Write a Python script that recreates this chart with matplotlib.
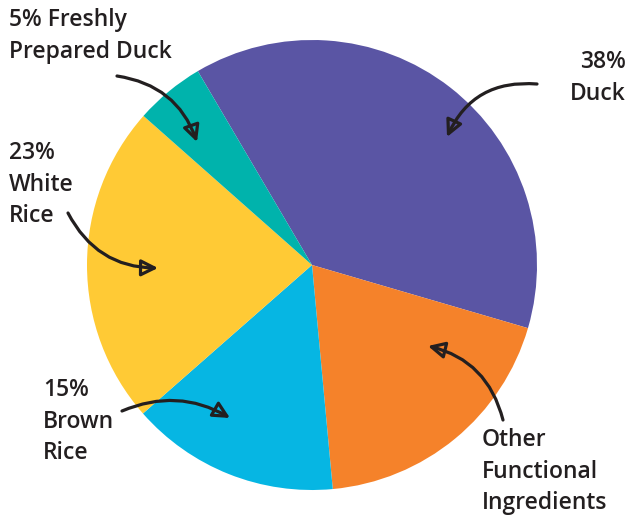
import matplotlib
matplotlib.use("Agg")
import matplotlib.pyplot as plt

labels = ["Duck", "Other Functional Ingredients", "Brown Rice", "White Rice", "Freshly Prepared Duck"]
values = [38, 19, 15, 23, 5]
colors = ["#5A55A4", "#F5822A", "#06B6E3", "#FFCA35", "#00B3AC"]
label_texts = ["38%\nDuck", "Other\nFunctional\nIngredients", "15%\nBrown\nRice", "23%\nWhite\nRice", "5% Freshly\nPrepared Duck"]

W, H = 633, 517
fig = plt.figure(figsize=(W / 100, H / 100), dpi=100)
ax = fig.add_axes([0, 0, 1, 1])

cx, cy, r = 312, H - 265, 225
ax.pie(values, colors=colors, startangle=120.5, counterclock=False,
       center=(cx, cy), radius=r, frame=True,
       wedgeprops=dict(linewidth=0))
ax.set_xlim(0, W)
ax.set_ylim(0, H)
ax.set_aspect("equal")
ax.axis("off")

txt = dict(fontsize=16.5, color="#231F20", family=["Open Sans", "DejaVu Sans"],
           fontweight="semibold", linespacing=1.42, va="top")

# label positions (x, y top in pixel coordinates from top) and alignment
pos = [(626, 50, "right"), (482, 428, "left"), (43, 378, "left"), (9, 141, "left"), (9, 8, "left")]
# arrows: (start, end, rad)
arrows = [((537, 84), (447, 137), 0.35),
          ((503, 420), (428, 346), 0.3),
          ((122, 411), (230, 418), -0.25),
          ((68, 213), (158, 268), 0.3),
          ((117, 76), (197, 142), -0.3)]

for t, (x, y, ha), (s, e, rad) in zip(label_texts, pos, arrows):
    ax.text(x, H - y, t, ha=ha, **txt)
    ax.annotate("", xy=(e[0], H - e[1]), xytext=(s[0], H - s[1]),
                arrowprops=dict(arrowstyle="-|>,head_length=1.0,head_width=0.5",
                                fill=False, color="#231F20", lw=2.3,
                                connectionstyle=f"arc3,rad={rad}",
                                shrinkA=0, shrinkB=0))

fig.savefig("out.png", dpi=100, facecolor="white")
